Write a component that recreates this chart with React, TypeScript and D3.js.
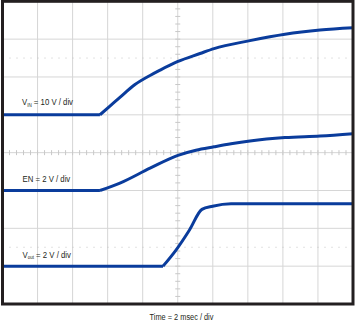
import React from "react";
import * as d3 from "d3";

// Time in ms (2 ms/div, 10 div), values in volts
const vinTime = [0, 5.56, 6.13, 6.7, 7.56, 8.42, 8.99, 10.01, 11.27, 12.07, 14.12, 16.12, 18.12, 20];
const vinVolts = [0, 0, 2.3, 4.6, 8.0, 10.4, 11.8, 14.1, 16.2, 17.5, 19.6, 21.3, 22.4, 23.0];

const enTime = [0, 5.56, 6.7, 8.42, 10.01, 11.04, 12.07, 13.04, 14.12, 16.12, 18.12, 20];
const enVolts = [0, 0, 0.39, 1.18, 1.86, 2.13, 2.31, 2.47, 2.62, 2.8, 2.88, 3.0];

const voutTime = [0, 9.16, 9.9, 10.66, 11.38, 11.99, 13.04, 20];
const voutVolts = [0, 0, 0.85, 1.9, 3.0, 3.17, 3.3, 3.3];

const traceLabels = ["IN", "EN", "OUT"];
const voltsPerDiv = [10, 2, 2];
const groundDiv = [5, 3, 1];
const timeLabel = "Time = 2 msec / div";

const W = 356;
const H = 321;
const left = 2.5, right = 353, top = 1.3, bottom = 304;

export default function App() {
  const x = d3.scaleLinear().domain([0, 20]).range([left, right]);
  const xd = d3.scaleLinear().domain([0, 10]).range([left, right]);
  const yd = d3.scaleLinear().domain([0, 8]).range([bottom, top]);

  const traces = [
    { t: vinTime, v: vinVolts },
    { t: enTime, v: enVolts },
    { t: voutTime, v: voutVolts },
  ];

  const paths = traces.map((tr, i) => {
    const pts: [number, number][] = tr.t.map((t, k) => [t, tr.v[k]]);
    const mk = (curve: any) =>
      d3
        .line<[number, number]>()
        .x((d) => x(d[0]))
        .y((d) => yd(groundDiv[i] + d[1] / voltsPerDiv[i]))
        .curve(curve);
    const flat = mk(d3.curveLinear)(pts.slice(0, 2)) || "";
    const rise = mk(d3.curveMonotoneX)(pts.slice(1)) || "";
    return [flat, rise];
  });

  const vGrid = d3.range(1, 10);
  const hGrid = d3.range(1, 8);
  const minorX = d3.range(0, 10.001, 0.2);
  const minorY = d3.range(0, 8.001, 0.2);
  const cx = xd(5);
  const cy = yd(4);
  const blue = "#0a3c9c";
  const font = "'Liberation Sans', Arial, sans-serif";
  const sx = 0.82;

  return (
    <svg
      width={W}
      height={H}
      style={{ position: "absolute", left: 0, top: 0, background: "#fff" }}
    >
      <rect x={0} y={0} width={W} height={H} fill="#fff" />
      {vGrid.map((g) => (
        <line key={"v" + g} x1={xd(g)} x2={xd(g)} y1={top} y2={bottom} stroke="#d6d6d6" strokeWidth={1} />
      ))}
      {hGrid.map((g) => (
        <line key={"h" + g} x1={left} x2={right} y1={yd(g)} y2={yd(g)} stroke="#d6d6d6" strokeWidth={1} />
      ))}
      {[6.5, 1.5].map((g) => (
        <line key={"d" + g} x1={left} x2={right} y1={yd(g)} y2={yd(g)} stroke="#c4c4c4" strokeWidth={1} strokeDasharray="1,6" />
      ))}
      {minorX.map((m, i) => (
        <line key={"mx" + i} x1={xd(m)} x2={xd(m)} y1={cy - 2.5} y2={cy + 2.5} stroke="#c8c8c8" strokeWidth={1} />
      ))}
      {minorY.map((m, i) => (
        <line key={"my" + i} x1={cx - 2.5} x2={cx + 2.5} y1={yd(m)} y2={yd(m)} stroke="#c8c8c8" strokeWidth={1} />
      ))}
      {paths.map((p, i) => (
        <g key={"p" + i}>
          <path d={p[0]} fill="none" stroke={blue} strokeWidth={3} />
          <path d={p[1]} fill="none" stroke={blue} strokeWidth={3} strokeLinejoin="round" />
        </g>
      ))}
      <rect x={left} y={top} width={right - left} height={bottom - top} fill="none" stroke="#231f20" strokeWidth={3} />
      <g transform={`translate(22,105) scale(${sx},1)`}>
        <text x={0} y={0} fontFamily={font} fontSize={9.5} fill="#231f20">
          V<tspan fontSize={5.5} dy={1.5}>{traceLabels[0]}</tspan>
          <tspan dy={-1.5}>{` = ${voltsPerDiv[0]} V / div`}</tspan>
        </text>
      </g>
      <g transform={`translate(22.5,182) scale(${sx},1)`}>
        <text x={0} y={0} fontFamily={font} fontSize={9.5} fill="#231f20">
          {`${traceLabels[1]} = ${voltsPerDiv[1]} V / div`}
        </text>
      </g>
      <g transform={`translate(22.5,257.5) scale(${sx},1)`}>
        <text x={0} y={0} fontFamily={font} fontSize={9.5} fill="#231f20">
          V<tspan fontSize={5.5} dy={1.5}>{traceLabels[2].toLowerCase()}</tspan>
          <tspan dy={-1.5}>{` = ${voltsPerDiv[2]} V / div`}</tspan>
        </text>
      </g>
      <g transform={`translate(181.5,319.5) scale(${sx},1)`}>
        <text x={0} y={0} fontFamily={font} fontSize={9} fill="#231f20" textAnchor="middle">
          {timeLabel}
        </text>
      </g>
    </svg>
  );
}
